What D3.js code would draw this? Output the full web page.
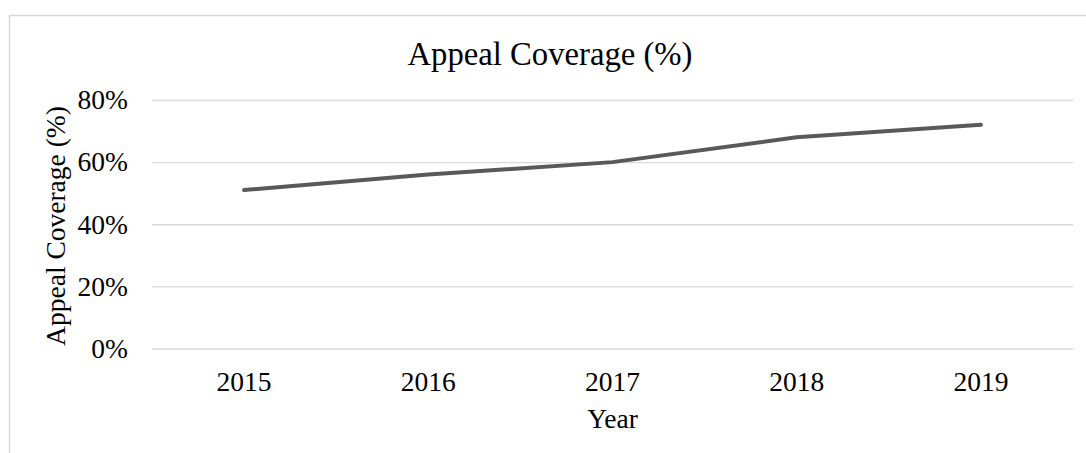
<!DOCTYPE html>
<html>
<head>
<meta charset="utf-8">
<script src="https://cdn.jsdelivr.net/npm/d3@7/dist/d3.min.js"></script>
<style>
  html, body { margin: 0; padding: 0; background: #fff; }
  svg { display: block; font-family: "Liberation Serif", "Times New Roman", serif; }
</style>
</head>
<body>
<svg id="chart" width="1086" height="453"></svg>
<script>
// Appeal coverage by year
const years = ["2015", "2016", "2017", "2018", "2019"];
const coverage = [0.51, 0.56, 0.60, 0.68, 0.72];
const yTicks = [0, 0.2, 0.4, 0.6, 0.8];

const svg = d3.select("#chart");
const W = 1086, H = 453;
const plot = { left: 152, right: 1073, top: 100, bottom: 348.5 };
const labelSize = 27.5;

// outer chart frame (right and bottom edges run past the canvas)
svg.append("rect")
  .attr("x", 9.5).attr("y", 15.5)
  .attr("width", W + 20).attr("height", H + 20)
  .attr("fill", "#fff")
  .attr("stroke", "#d9d9d9").attr("stroke-width", 1.5);

const x = d3.scaleBand().domain(years).range([plot.left, plot.right]);
const y = d3.scaleLinear().domain([0, 0.8]).range([plot.bottom, plot.top]);

// horizontal gridlines + percentage labels
const yAxis = d3.axisLeft(y)
  .tickValues(yTicks)
  .tickFormat(d3.format(".0%"))
  .tickSize(-(plot.right - plot.left))
  .tickPadding(24);
const gy = svg.append("g").attr("transform", `translate(${plot.left},0)`).call(yAxis);
gy.select(".domain").remove();
gy.selectAll(".tick line").attr("stroke", "#d9d9d9").attr("stroke-width", 1.3);
gy.selectAll(".tick text")
  .attr("fill", "#000").attr("font-size", labelSize)
  .attr("font-family", "Liberation Serif, serif");

// year labels
const xAxis = d3.axisBottom(x).tickSize(0).tickPadding(22.5);
const gx = svg.append("g").attr("transform", `translate(0,${plot.bottom})`).call(xAxis);
gx.select(".domain").remove();
gx.selectAll(".tick text")
  .attr("fill", "#000").attr("font-size", labelSize)
  .attr("font-family", "Liberation Serif, serif");

// coverage line
const line = d3.line()
  .x((d, i) => x(years[i]) + x.bandwidth() / 2)
  .y(d => y(d));
svg.append("path")
  .datum(coverage)
  .attr("d", line)
  .attr("fill", "none")
  .attr("stroke", "#595959")
  .attr("stroke-width", 4)
  .attr("stroke-linecap", "round")
  .attr("stroke-linejoin", "round");

// titles
svg.append("text")
  .attr("x", 550).attr("y", 65)
  .attr("text-anchor", "middle")
  .attr("font-size", 32.7)
  .attr("fill", "#000")
  .text("Appeal Coverage (%)");

svg.append("text")
  .attr("x", (plot.left + plot.right) / 2).attr("y", 428)
  .attr("text-anchor", "middle")
  .attr("font-size", labelSize)
  .attr("fill", "#000")
  .text("Year");

svg.append("text")
  .attr("transform", `translate(65,226) rotate(-90)`)
  .attr("text-anchor", "middle")
  .attr("font-size", labelSize)
  .attr("fill", "#000")
  .text("Appeal Coverage (%)");
</script>
</body>
</html>
